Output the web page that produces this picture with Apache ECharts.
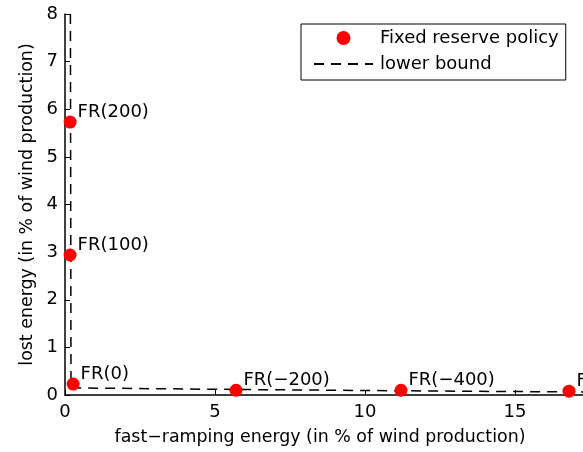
<!DOCTYPE html>
<html><head><meta charset="utf-8">
<script src="https://cdn.jsdelivr.net/npm/echarts@6/dist/echarts.min.js"></script>
<style>html,body{margin:0;padding:0;background:#fff}#c{width:583px;height:452px}</style>
</head><body><div id="c"></div>
<script>
const pointNames = ['FR(200)', 'FR(100)', 'FR(0)', 'FR(\u2212200)', 'FR(\u2212400)', 'FR(\u2212600)'];
const pointX = [0.17, 0.17, 0.27, 5.7, 11.2, 16.8];
const pointY = [5.73, 2.94, 0.23, 0.1, 0.1, 0.08];
const boundX = [0.18, 0.2, 5, 11, 20];
const boundY = [8, 0.15, 0.12, 0.09, 0.05];
const xTicks = [0, 5, 10, 15, 20];
const yTicks = [0, 1, 2, 3, 4, 5, 6, 7, 8];

const font = 'DejaVu Sans, sans-serif';
const fs = 18;
const nfs = 17.4;
const chart = echarts.init(document.getElementById('c'), null, {renderer: 'canvas'});
chart.setOption({
  animation: false,
  backgroundColor: '#fff',
  grid: {left: 65, top: 14, right: -82, bottom: 57, outerBoundsMode: 'none', containLabel: false},
  legend: {
    orient: 'vertical', left: 301, top: 24, itemWidth: 59, itemHeight: 14, itemGap: 8,
    padding: [5, 7, 7, 12], borderColor: '#000', borderWidth: 1, backgroundColor: '#fff',
    textStyle: {fontFamily: font, fontSize: fs, color: '#000', padding: [0, 0, 0, 2]},
    data: [
      {name: 'Fixed reserve policy', icon: 'circle'},
      {name: 'lower bound', itemStyle: {opacity: 0}}
    ]
  },
  xAxis: {
    type: 'value', min: xTicks[0], max: xTicks[xTicks.length - 1], interval: 5,
    name: 'fast\u2212ramping energy (in % of wind production)', nameLocation: 'middle', nameGap: 34,
    nameTextStyle: {fontFamily: font, fontSize: nfs, color: '#000', padding: [0, 90, 0, 0]},
    axisLine: {lineStyle: {color: '#000', width: 1.5}},
    axisTick: {inside: true, length: 5, lineStyle: {color: '#000'}},
    axisLabel: {fontFamily: font, fontSize: fs, color: '#000', margin: 8},
    splitLine: {show: false}
  },
  yAxis: {
    type: 'value', min: yTicks[0], max: yTicks[yTicks.length - 1], interval: 1,
    name: 'lost energy (in % of wind production)', nameLocation: 'middle', nameGap: 24,
    nameTextStyle: {fontFamily: font, fontSize: nfs, color: '#000'},
    axisLine: {show: true, lineStyle: {color: '#000', width: 1.5}},
    axisTick: {show: true, inside: true, length: 5, lineStyle: {color: '#000'}},
    axisLabel: {fontFamily: font, fontSize: fs, color: '#000', margin: 7},
    splitLine: {show: false}
  },
  series: [
    {
      name: 'lower bound', type: 'line', symbol: 'none', z: 3,
      lineStyle: {color: '#000', width: 1.5, type: [10, 7]},
      itemStyle: {color: '#000'},
      data: boundX.map((x, i) => [x, boundY[i]])
    },
    {
      name: 'Fixed reserve policy', type: 'scatter', symbolSize: 13, z: 4,
      itemStyle: {color: '#ff0000', opacity: 1},
      label: {
        show: true, position: 'right', distance: 1, offset: [0, -10],
        fontFamily: font, fontSize: fs, color: '#000',
        formatter: p => pointNames[p.dataIndex]
      },
      data: pointX.map((x, i) => [x, pointY[i]])
    }
  ]
});
</script></body></html>
